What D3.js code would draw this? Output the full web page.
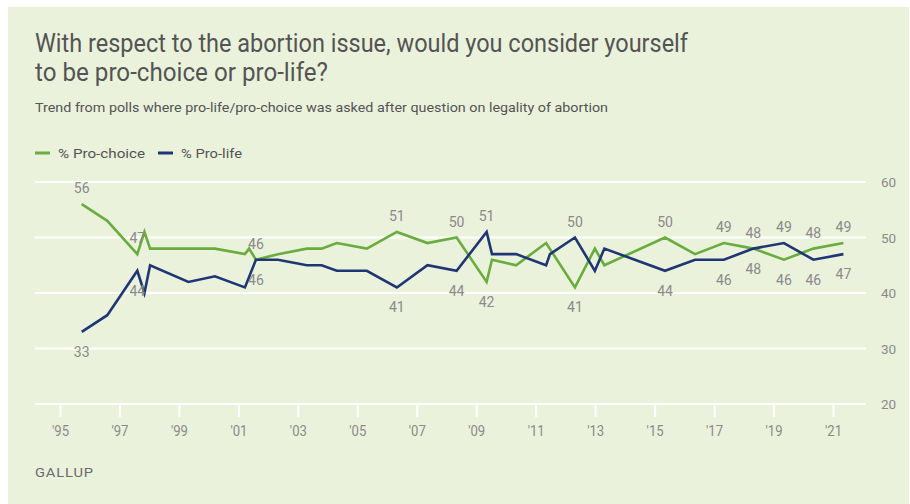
<!DOCTYPE html>
<html>
<head>
<meta charset="utf-8">
<script src="https://cdn.jsdelivr.net/npm/d3@7"></script>
<style>
  body { margin: 0; background: #fff; }
  .title { font-family: Roboto, sans-serif; fill: #545454; }
  .num { font-family: Roboto, "Liberation Sans", sans-serif; fill: #8a8a8a; }
</style>
</head>
<body>
<div id="chart"></div>
<script>
// poll dates (fractional years) and results
const dates = [1995.73, 1996.59, 1997.60, 1997.84, 1998.03, 1999.32, 2000.21, 2001.22, 2001.36, 2001.59,
    2002.33, 2003.30, 2003.80, 2004.31, 2005.32, 2006.33, 2007.36, 2008.34, 2009.35, 2009.53,
    2010.34, 2011.35, 2011.48, 2012.32, 2012.99, 2013.31, 2015.35, 2016.36, 2017.33, 2018.32,
    2019.35, 2020.34, 2021.35];
const proChoice = [56, 53, 47, 51, 48, 48, 48, 47, 48, 46,
    47, 48, 48, 49, 48, 51, 49, 50, 42, 46,
    45, 49, null, 41, 48, 45, 50, 47, 49, 48,
    46, 48, 49];
const proLife = [33, 36, 44, 40, 45, 42, 43, 41, null, 46,
    46, 45, 45, 44, 44, 41, 45, 44, 51, 47,
    47, 45, 47, 50, 44, 48, 44, 46, 46, 48,
    49, 46, 47];
// dates that carry a value label
const labelDates = [1995.73, 1997.60, 2001.59, 2006.33, 2008.34, 2009.35, 2012.32, 2015.35,
    2017.33, 2018.32, 2019.35, 2020.34, 2021.35];
const yTicks = [20, 30, 40, 50, 60];
const xTicks = [1995, 1997, 1999, 2001, 2003, 2005, 2007, 2009, 2011, 2013, 2015, 2017, 2019, 2021];

const W = 910, H = 504;
const green = "#68ad3d", navy = "#1f3674";

const svg = d3.select("#chart").append("svg")
    .attr("width", W)
    .attr("height", H);

// panel background
svg.append("rect")
    .attr("x", 8).attr("y", 7)
    .attr("width", W - 9).attr("height", H - 7)
    .attr("fill", "#ebf2dc");

// title + subtitle
svg.append("text").attr("class", "title")
    .attr("x", 35).attr("y", 52)
    .attr("font-size", 25)
    .attr("textLength", 653).attr("lengthAdjust", "spacingAndGlyphs")
    .text("With respect to the abortion issue, would you consider yourself");
svg.append("text").attr("class", "title")
    .attr("x", 35).attr("y", 81)
    .attr("font-size", 25)
    .attr("textLength", 293).attr("lengthAdjust", "spacingAndGlyphs")
    .text("to be pro-choice or pro-life?");
svg.append("text").attr("class", "title")
    .attr("x", 35).attr("y", 112)
    .attr("font-size", 13.5)
    .attr("textLength", 573).attr("lengthAdjust", "spacingAndGlyphs")
    .text("Trend from polls where pro-life/pro-choice was asked after question on legality of abortion");

// legend
const legend = [{name: "% Pro-choice", color: green, x: 35, w: 87}, {name: "% Pro-life", color: navy, x: 158, w: 61}];
legend.forEach(l => {
    svg.append("line")
        .attr("x1", l.x).attr("x2", l.x + 15)
        .attr("y1", 153).attr("y2", 153)
        .attr("stroke", l.color).attr("stroke-width", 3);
    svg.append("text").attr("class", "title")
        .attr("x", l.x + 23).attr("y", 157.5)
        .attr("font-size", 13)
        .attr("textLength", l.w).attr("lengthAdjust", "spacingAndGlyphs")
        .text(l.name);
});

// scales
const x = d3.scaleLinear().domain([1995, 2021]).range([60, 833]);
const y = d3.scaleLinear().domain([20, 60]).range([404, 182]);

// gridlines
svg.append("g")
    .selectAll("line")
    .data(yTicks)
    .join("line")
    .attr("x1", 35).attr("x2", 866)
    .attr("y1", d => y(d)).attr("y2", d => y(d))
    .attr("stroke", "#fff").attr("stroke-width", 2);

// right axis labels
svg.append("g")
    .selectAll("text")
    .data(yTicks)
    .join("text")
    .attr("class", "num")
    .attr("x", 881).attr("y", d => y(d) + 5)
    .attr("font-size", 13.5)
    .text(d => d);

// x axis
const xAxis = d3.axisBottom(x)
    .tickValues(xTicks)
    .tickSize(12)
    .tickPadding(9)
    .tickFormat(d => "'" + String(d).slice(2));
const xg = svg.append("g")
    .attr("transform", `translate(0,${y(20) + 1})`)
    .call(xAxis);
xg.select(".domain").remove();
xg.selectAll(".tick line").attr("stroke", "#fff").attr("stroke-width", 2);
xg.selectAll(".tick text")
    .attr("class", "num")
    .attr("fill", "#808080")
    .attr("font-size", 14)
    .attr("textLength", 17).attr("lengthAdjust", "spacingAndGlyphs");

// lines
const series = [
    {key: "choice", values: proChoice, other: proLife, color: green},
    {key: "life", values: proLife, other: proChoice, color: navy}
];

const line = d3.line()
    .x(d => x(d.date))
    .y(d => y(d.value));

series.forEach(s => {
    const pts = dates.map((d, i) => ({date: d, value: s.values[i], other: s.other[i]}))
        .filter(p => p.value !== null);
    s.pts = pts;
    svg.append("path")
        .datum(pts)
        .attr("d", line)
        .attr("fill", "none")
        .attr("stroke", s.color)
        .attr("stroke-width", 2.6)
        .attr("stroke-linejoin", "miter");
});

// value labels: above when the series leads (ties -> pro-choice above)
series.forEach(s => {
    const lab = s.pts.filter(p => labelDates.includes(p.date));
    svg.append("g")
        .selectAll("text")
        .data(lab)
        .join("text")
        .attr("class", "num")
        .attr("text-anchor", "middle")
        .attr("font-size", 14)
        .attr("x", d => x(d.date))
        .attr("y", d => {
            const above = s.key === "choice" ? d.value >= d.other : d.value > d.other;
            return above ? y(d.value) - 11 : y(d.value) + 25;
        })
        .text(d => d.value);
});

// source
svg.append("text")
    .attr("x", 35).attr("y", 477)
    .attr("font-family", "Roboto, sans-serif")
    .attr("font-size", 13.5)
    .attr("fill", "#6b6b6b")
    .attr("letter-spacing", 0.8)
    .attr("textLength", 59).attr("lengthAdjust", "spacingAndGlyphs")
    .text("GALLUP");
</script>
</body>
</html>
